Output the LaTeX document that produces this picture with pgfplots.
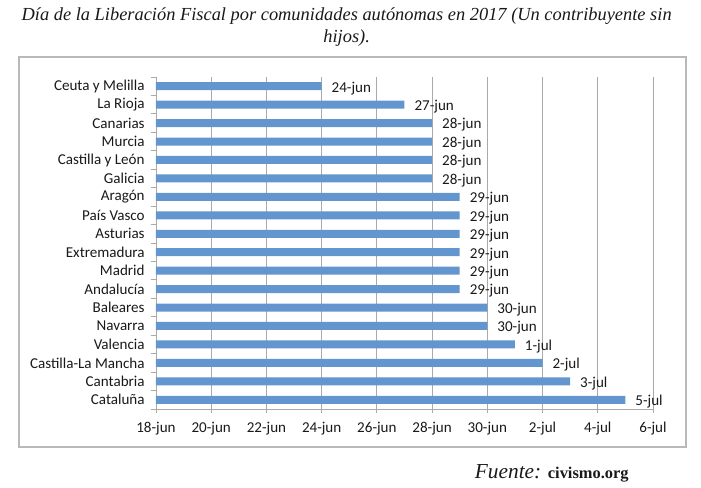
\documentclass[border=0pt]{standalone}
\usepackage{pgfplots}
\pgfplotsset{compat=1.18}
\usepackage{pgfplotstable}
\usepackage{fontspec}
\setmainfont{Carlito}
\newfontfamily\serifit{Liberation Serif}
\definecolor{barblue}{RGB}{99,149,206}
\definecolor{gridgray}{RGB}{170,170,170}
\definecolor{framegray}{RGB}{185,185,185}
\definecolor{txt}{RGB}{25,25,25}

\pgfplotstableread{
idx val lab
0 6 24-jun
1 9 27-jun
2 10 28-jun
3 10 28-jun
4 10 28-jun
5 10 28-jun
6 11 29-jun
7 11 29-jun
8 11 29-jun
9 11 29-jun
10 11 29-jun
11 11 29-jun
12 12 30-jun
13 12 30-jun
14 13 1-jul
15 14 2-jul
16 15 3-jul
17 17 5-jul
}\datatable

\begin{document}
\begin{tikzpicture}
\useasboundingbox (0,0) rectangle (525.75pt,366pt);
% frame
\draw[framegray, line width=0.8pt] (14.25pt,30.75pt) rectangle (514.5pt,323.25pt);
% title
\node[align=center, text=txt, font=\serifit\itshape\fontsize{13.8}{16.5}\selectfont] at (260pt,345.5pt)
  {Día de la Liberación Fiscal por comunidades autónomas en 2017 (Un contribuyente sin\\hijos).};
% source
\node[anchor=base west, text=txt, inner sep=0pt] at (356pt,7pt)
  {{\serifit\itshape\fontsize{16}{19}\selectfont Fuente:}\hspace{5pt}{\serifit\bfseries\fontsize{12.3}{14}\selectfont civismo.org}};
\begin{axis}[
  at={(117pt,59.25pt)}, anchor=south west,
  scale only axis, width=372.75pt, height=249pt,
  xbar, bar width=6pt,
  xmin=0, xmax=18,
  ymin=-0.5, ymax=17.5, y dir=reverse,
  axis x line*=bottom, axis y line*=left,
  axis line style={gridgray, line width=0.6pt, -},
  xtick={0,2,...,18},
  xticklabels={18-jun,20-jun,22-jun,24-jun,26-jun,28-jun,30-jun,2-jul,4-jul,6-jul},
  ytick={0,...,17},
  yticklabels={Ceuta y Melilla,La Rioja,Canarias,Murcia,Castilla y León,Galicia,Aragón,País Vasco,Asturias,Extremadura,Madrid,Andalucía,Baleares,Navarra,Valencia,Castilla-La Mancha,Cantabria,Cataluña},
  minor ytick={-0.5,0.5,...,17.5},
  major y tick style={draw=none},
  minor y tick style={gridgray, line width=0.6pt},
  minor tick length=4pt,
  major x tick style={gridgray, line width=0.6pt},
  major tick length=3pt,
  tick align=outside,
  xmajorgrids, major grid style={gridgray, line width=0.6pt},
  ticklabel style={font=\fontsize{11.3}{13}\selectfont, text=txt},
  xticklabel style={yshift=-3pt},
  yticklabel style={xshift=-2pt},
  point meta=explicit symbolic,
  nodes near coords,
  nodes near coords style={anchor=west, xshift=4pt, yshift=-1.5pt, font=\fontsize{11.3}{13}\selectfont, text=txt},
  clip=false,
]
\addplot[fill=barblue, draw=none] table[x=val, y=idx, meta=lab] {\datatable};
\end{axis}
\end{tikzpicture}
\end{document}
